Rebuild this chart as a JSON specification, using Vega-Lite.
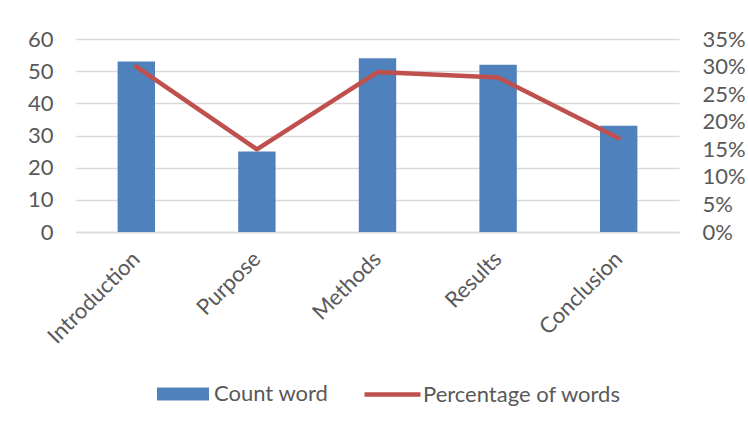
{
  "$schema": "https://vega.github.io/schema/vega-lite/v6.json",
  "autosize": "none",
  "width": 603,
  "height": 193,
  "padding": {"left": 76, "top": 39, "right": 69, "bottom": 195},
  "background": "white",
  "config": {
    "view": {"stroke": null},
    "font": "Lato",
    "axis": {"labelFont": "Lato", "labelFontSize": 22, "labelColor": "#595959", "ticks": false, "domain": false, "title": null, "gridColor": "#D9D9D9", "gridWidth": 1.3},
    "legend": {"labelFont": "Lato", "labelFontSize": 22, "labelColor": "#595959", "labelLimit": 400, "title": null}
  },
  "data": {
    "values": [
      {"section": "Introduction", "count": 53, "pct": 0.30},
      {"section": "Purpose", "count": 25, "pct": 0.15},
      {"section": "Methods", "count": 54, "pct": 0.29},
      {"section": "Results", "count": 52, "pct": 0.28},
      {"section": "Conclusion", "count": 33, "pct": 0.17}
    ]
  },
  "encoding": {
    "x": {
      "field": "section",
      "type": "nominal",
      "sort": null,
      "scale": {"paddingInner": 0.69, "paddingOuter": 0.345},
      "axis": {"labelAngle": -45, "labelAlign": "right", "labelBaseline": "middle", "labelPadding": 23, "domain": true, "domainColor": "#D9D9D9", "domainWidth": 1.3}
    }
  },
  "layer": [
    {
      "mark": {"type": "bar"},
      "encoding": {
        "y": {
          "field": "count",
          "type": "quantitative",
          "scale": {"domain": [0, 60], "nice": false},
          "axis": {"values": [0, 10, 20, 30, 40, 50, 60], "grid": true, "labelPadding": 23}
        },
        "fill": {
          "datum": "Count word",
          "scale": {"range": ["#4F81BD"]},
          "legend": {
            "orient": "none",
            "legendX": 81,
            "legendY": 329,
            "symbolType": "M-1,-0.25H1V0.25H-1Z",
            "symbolSize": 2704,
            "symbolStrokeWidth": 0,
            "labelOffset": 5
          }
        }
      }
    },
    {
      "mark": {"type": "line", "strokeWidth": 4.5, "strokeCap": "round", "strokeJoin": "round"},
      "encoding": {
        "y": {
          "field": "pct",
          "type": "quantitative",
          "scale": {"domain": [0, 0.35], "nice": false},
          "axis": {"orient": "right", "format": ".0%", "values": [0, 0.05, 0.1, 0.15, 0.2, 0.25, 0.3, 0.35], "grid": false, "labelPadding": 23}
        },
        "stroke": {
          "datum": "Percentage of words",
          "scale": {"range": ["#C0504D"]},
          "legend": {
            "orient": "none",
            "legendX": 286,
            "legendY": 325,
            "symbolType": "stroke",
            "symbolSize": 3136,
            "symbolStrokeWidth": 4.5,
            "labelOffset": 0
          }
        }
      }
    }
  ],
  "resolve": {"scale": {"y": "independent"}}
}
